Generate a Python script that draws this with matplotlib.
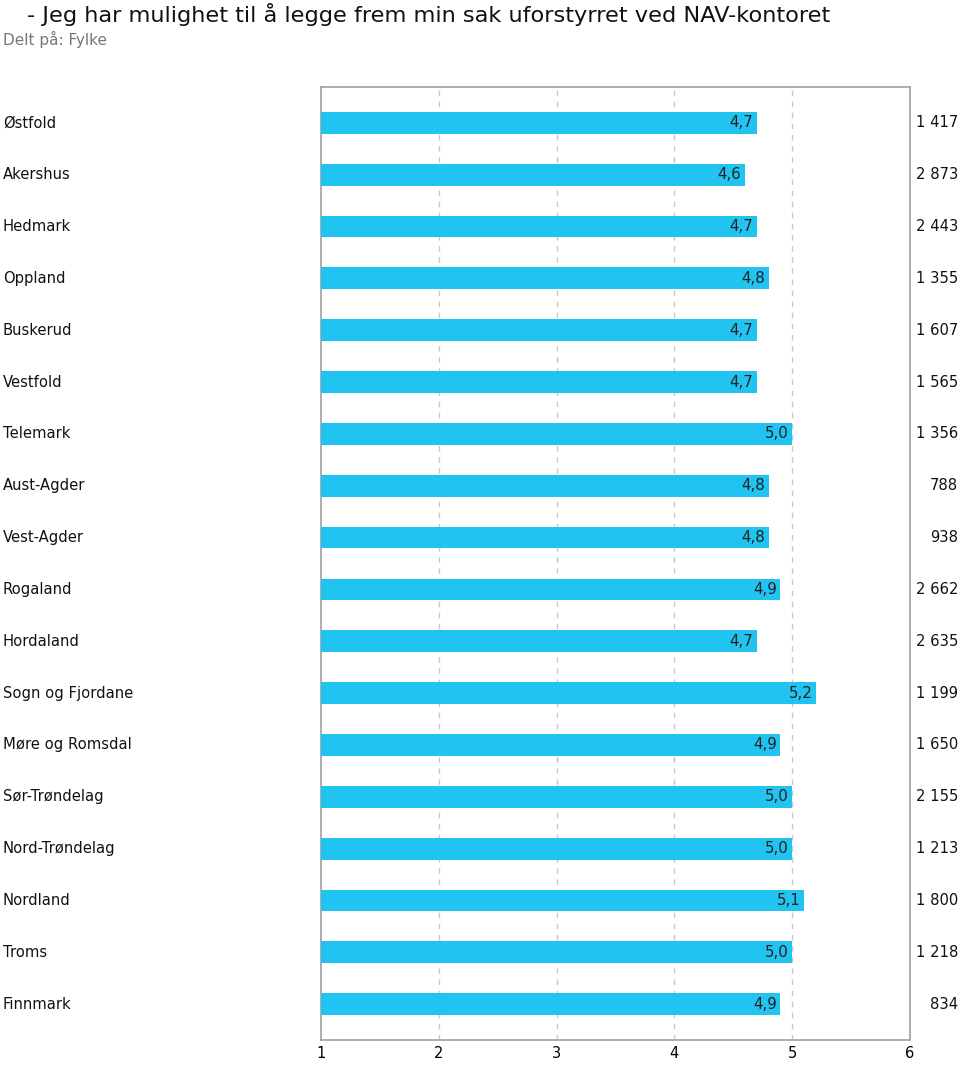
import matplotlib.pyplot as plt
import matplotlib.transforms as mtransforms
import numpy as np

fylker = ['Østfold', 'Akershus', 'Hedmark', 'Oppland', 'Buskerud', 'Vestfold',
          'Telemark', 'Aust-Agder', 'Vest-Agder', 'Rogaland', 'Hordaland',
          'Sogn og Fjordane', 'Møre og Romsdal', 'Sør-Trøndelag',
          'Nord-Trøndelag', 'Nordland', 'Troms', 'Finnmark']
snitt = [4.7, 4.6, 4.7, 4.8, 4.7, 4.7, 5.0, 4.8, 4.8, 4.9, 4.7, 5.2, 4.9,
         5.0, 5.0, 5.1, 5.0, 4.9]
antall = ['1 417', '2 873', '2 443', '1 355', '1 607', '1 565', '1 356', '788',
          '938', '2 662', '2 635', '1 199', '1 650', '2 155', '1 213', '1 800',
          '1 218', '834']
xticks = [1, 2, 3, 4, 5, 6]

fig = plt.figure(figsize=(9.6, 10.65), dpi=100)
ax = fig.add_axes([321/960, 1 - 1040/1065, (910-321)/960, (1040-87)/1065])

y = np.arange(len(fylker))
ax.barh(y, [v - 1 for v in snitt], left=1, height=0.42, color='#21C4F0', zorder=3)
for yi, v in zip(y, snitt):
    ax.text(v - 0.03, yi, f'{v:.1f}'.replace('.', ','), ha='right', va='center',
            fontsize=10.8, color='#222222', zorder=4)

# row labels: x in figure coords, y in data coords
tr = mtransforms.blended_transform_factory(fig.transFigure, ax.transData)
for yi, name, n in zip(y, fylker, antall):
    ax.text(3/960, yi, name, transform=tr, ha='left', va='center',
            fontsize=10.6, color='#111111', clip_on=False)
    ax.text(958/960, yi, n, transform=tr, ha='right', va='center',
            fontsize=10.6, color='#111111', clip_on=False)

ax.set_xlim(1, 6)
ax.set_ylim(len(fylker) - 0.31, -0.69)
ax.set_xticks(xticks)
ax.set_xticklabels([str(t) for t in xticks], fontsize=10.5)
ax.tick_params(axis='x', length=0, pad=4)
ax.set_yticks([])
for x in xticks[1:-1]:
    ax.axvline(x, color='#c8c8c8', linestyle=(0, (4, 4)), linewidth=1, zorder=1)
for s in ax.spines.values():
    s.set_color('#a0a0a0')
    s.set_linewidth(1.2)

fig.text(27/960, 1 - 14/1065, '- Jeg har mulighet til å legge frem min sak uforstyrret ved NAV-kontoret',
         fontsize=16.2, ha='left', va='center', color='#111111')
fig.text(3/960, 1 - 39/1065, 'Delt på: Fylke', fontsize=11, ha='left', va='center', color='#777777')

plt.savefig('out.png', dpi=100)
